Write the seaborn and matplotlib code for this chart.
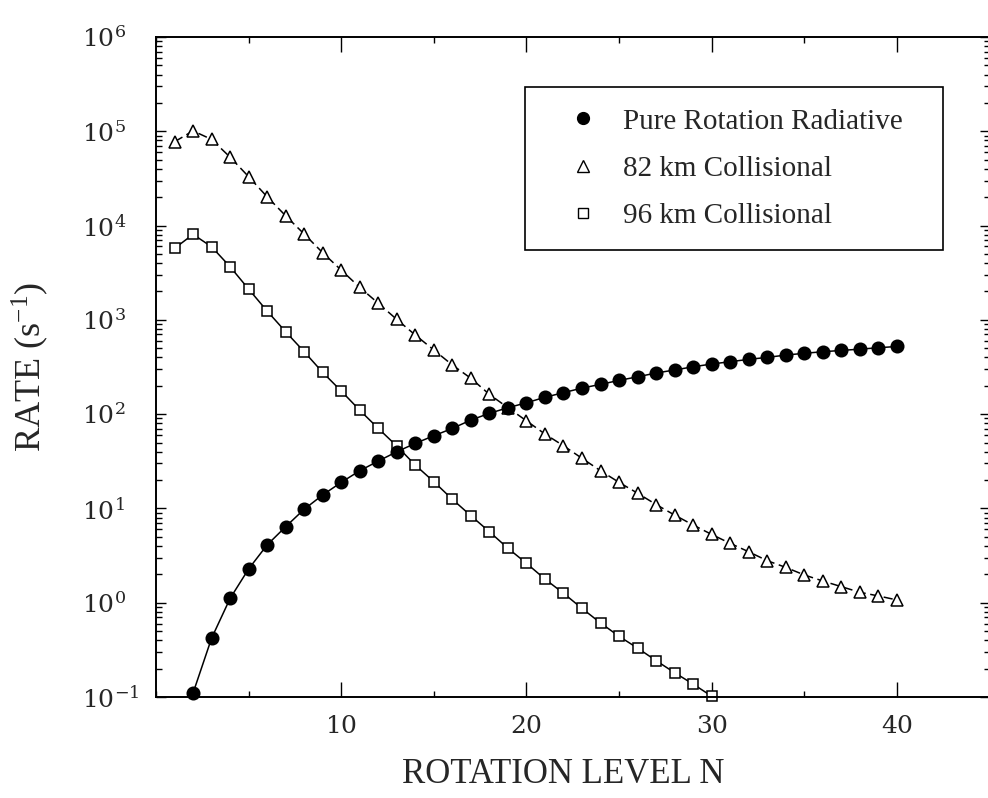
import numpy as np
import matplotlib
matplotlib.use("Agg")
import matplotlib.pyplot as plt
from matplotlib.lines import Line2D
from matplotlib.ticker import LogLocator, NullFormatter, MultipleLocator
import seaborn as sns

# Rotational level rates (s^-1)
levels_rad = list(range(2, 41))
rate_rad = [0.11, 0.42, 1.11, 2.28, 4.1, 6.4, 9.8, 13.9, 18.9, 25.1,
            31.8, 39.9, 49, 59, 70.6, 86.5, 102, 117, 132, 151,
            169, 189, 207, 228, 249, 273, 294, 318, 340, 360,
            381, 400, 423, 442, 459, 474, 489, 506, 522]

levels_82 = list(range(1, 41))
rate_82 = [77400, 101000, 82000, 53200, 33000, 20200, 12700, 8130, 5150, 3370,
           2210, 1500, 1010, 690, 479, 332, 240, 162, 117, 85,
           61.5, 46.2, 34, 25.1, 18.9, 14.5, 11.0, 8.5, 6.67, 5.3,
           4.26, 3.47, 2.79, 2.37, 1.97, 1.70, 1.48, 1.29, 1.18, 1.07]

levels_96 = list(range(1, 31))
rate_96 = [5730, 8070, 5960, 3660, 2120, 1240, 748, 459, 277, 176,
           110, 70.6, 45.9, 28.8, 19.2, 12.5, 8.37, 5.66, 3.78, 2.62,
           1.78, 1.26, 0.87, 0.61, 0.44, 0.33, 0.243, 0.181, 0.137, 0.102]

series_labels = ["Pure Rotation Radiative", "82 km Collisional", "96 km Collisional"]
x_ticks = [10, 20, 30, 40]
y_exponents = [-1, 0, 1, 2, 3, 4, 5, 6]

sns.set_style("ticks")
plt.rcParams["font.family"] = ["Liberation Serif", "DejaVu Serif"]
plt.rcParams["mathtext.fontset"] = "dejavuserif"

W, H = 988, 798
fig = plt.figure(figsize=(W / 100, H / 100), dpi=100)
ax = fig.add_axes([156 / W, 101 / H, 833.5 / W, 660 / H])

common = dict(ax=ax, color="black", linewidth=1.1, markeredgecolor="black",
              markeredgewidth=1.1, clip_on=False, legend=False)
sns.lineplot(x=levels_82, y=rate_82, marker="^", markersize=9,
             markerfacecolor="white", linestyle=(0, (6, 3)), **common)
sns.lineplot(x=levels_96, y=rate_96, marker="s", markersize=7,
             markerfacecolor="white", **common)
sns.lineplot(x=levels_rad, y=rate_rad, marker="o", markersize=9,
             markerfacecolor="black", **common)

ax.set_yscale("log")
ax.set_xlim(0, 45)
ax.set_ylim(0.1, 1e6)

ax.set_yticks([10.0 ** e for e in y_exponents])
ax.set_yticklabels([f"$10^{{{e}}}$" for e in y_exponents])
ax.yaxis.set_minor_locator(LogLocator(base=10, subs=np.arange(2, 10)))
ax.yaxis.set_minor_formatter(NullFormatter())
ax.set_xticks(x_ticks)
ax.set_xticklabels([f"${t}$" for t in x_ticks])
ax.xaxis.set_minor_locator(MultipleLocator(5))

ax.tick_params(which="both", direction="in", top=True, right=True,
               width=1.0, color="black")
ax.tick_params(axis="x", which="major", length=11, pad=14, labelsize=18)
ax.tick_params(axis="x", which="minor", length=4)
ax.tick_params(axis="y", which="major", length=7, pad=53, labelsize=18)
ax.tick_params(axis="y", which="minor", length=4)
for lab in ax.get_yticklabels():
    lab.set_horizontalalignment("left")

for sp in ax.spines.values():
    sp.set_linewidth(1.4)
    sp.set_color("black")

ax.set_xlabel("ROTATION LEVEL N", fontsize=25)
ax.set_ylabel(r"RATE (s$^{\mathregular{-1}}$)", fontsize=26)
ax.xaxis.set_label_coords(0.488, -0.0924)
ax.yaxis.set_label_coords(-0.126, 0.5)

handles = [
    Line2D([], [], linestyle="none", marker="o", markersize=8.5,
           markerfacecolor="black", markeredgecolor="black"),
    Line2D([], [], linestyle="none", marker="^", markersize=8,
           markerfacecolor="white", markeredgecolor="black", markeredgewidth=1.0),
    Line2D([], [], linestyle="none", marker="s", markersize=6.5,
           markerfacecolor="white", markeredgecolor="black", markeredgewidth=1.0),
]
leg = ax.legend(handles=handles, labels=series_labels, loc="upper left",
                bbox_to_anchor=(0.443, 0.679, 0.501, 0.245), mode="expand",
                borderaxespad=0, fontsize=21, frameon=True, fancybox=False,
                edgecolor="black", framealpha=1, borderpad=0.72,
                handlelength=2.54, handletextpad=0.10, labelspacing=0.72)
leg.get_frame().set_linewidth(1.2)

fig.savefig("out.png", dpi=100, facecolor="white")
